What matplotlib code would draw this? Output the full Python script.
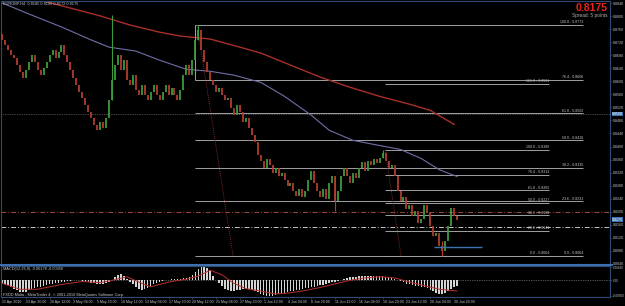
#!/usr/bin/env python3
"""EURGBP H4 terminal screenshot remake -> out.png (625x306)."""
import matplotlib
matplotlib.use("Agg")
import matplotlib.pyplot as plt
import numpy as np

plt.rcParams.update({
    "font.family": "sans-serif",
    "font.sans-serif": ["Liberation Sans", "DejaVu Sans"],
})

# ---- data: prices in pips (1 pip = 0.0001), one bar = 8 hours ----
first_open = 8745
close_pips = [
    8727, 8711, 8696, 8681, 8671, 8650, 8628, 8610, 8634, 8659,
    8681, 8659, 8634, 8619, 8641, 8659, 8681, 8696, 8671, 8690,
    8711, 8681, 8659, 8634, 8610, 8588, 8567, 8548, 8527, 8505,
    8487, 8465, 8450, 8474, 8456, 8487, 8542, 8604, 8650, 8681,
    8634, 8665, 8604, 8588, 8619, 8573, 8557, 8588, 8557, 8542,
    8567, 8588, 8557, 8542, 8567, 8588, 8557, 8579, 8557, 8542,
    8573, 8619, 8650, 8619, 8665, 8727, 8758, 8696, 8659, 8628,
    8604, 8588, 8567, 8579, 8557, 8542, 8548, 8517, 8496, 8527,
    8505, 8474, 8487, 8456, 8434, 8413, 8373, 8357, 8333, 8363,
    8342, 8320, 8333, 8308, 8320, 8296, 8280, 8289, 8265, 8249,
    8271, 8246, 8265, 8296, 8326, 8289, 8265, 8246, 8271, 8240,
    8289, 8311, 8234, 8265, 8311, 8333, 8311, 8289, 8320, 8302,
    8333, 8351, 8326, 8357, 8342, 8363, 8348, 8366, 8379, 8357,
    8333, 8342, 8311, 8265, 8234, 8246, 8209, 8219, 8188, 8203,
    8166, 8179, 8219, 8197, 8157, 8126, 8135, 8095, 8080, 8111,
    8157, 8212, 8188, 8175,
]
wick_idx = [37, 66, 112, 128, 148]
wick_low = [8542, 8727, 8203, 8366, 8064]
wick_high = [8804, 8773, 8311, 8390, 8111]

ma_red_idx = [3, 14, 23, 33, 43, 53, 60, 70, 80, 87, 97, 107, 117, 127, 137, 144, 152]
ma_red = [8890, 8846, 8825, 8801, 8773, 8751, 8739, 8730, 8705, 8687, 8650, 8613,
          8582, 8554, 8530, 8511, 8468]
ma_slate_idx = [0, 9, 20, 30, 36, 45, 53, 62, 70, 78, 87, 95, 104, 110, 118, 127,
                134, 141, 147, 153]
ma_slate = [8841, 8807, 8767, 8727, 8705, 8693, 8665, 8637, 8631, 8619, 8597, 8554,
            8496, 8450, 8419, 8403, 8391, 8363, 8329, 8308]

fib_a = (0.8064, 0.8773)                     # low, high
fib_a_levels = [0.0, 23.6, 38.2, 50.0, 61.8, 76.4, 100.0]
fib_a_trend = ([65.6, 77.7], [0.8773, 0.8064])
fib_b = (0.8064, 0.8390)
fib_b_levels = [0.0, 23.6, 38.2, 50.0, 61.8, 76.4, 100.0, 161.8]
fib_b_trend = ([128.8, 134.2], [0.8390, 0.8064])
line_red = 0.8200
line_white = 0.8154
line_dotted = 0.8500
support = 0.8092
bid = 0.8175

# MACD(12,26,9), units of 1e-4
macd_hist = [
    -8, -12, -16, -22, -28, -34, -38, -40, -38, -34,
    -30, -27, -24, -21, -18, -16, -14, -12, -10, -8,
    -6, -4, -2, -1, 1, 1, 0, -2, -4, -6,
    -8, -10, -12, -13, -12, -10, -6, 2, 10, 18,
    20, 14, 5, -5, -14, -22, -28, -31, -30, -26,
    -20, -14, -9, -5, -2, 0, 2, 4, 5, 6,
    6, 7, 9, 12, 18, 28, 38, 44, 46, 40,
    30, 15, 2, -10, -20, -28, -33, -36, -36, -34,
    -32, -30, -29, -30, -32, -36, -40, -45, -49, -52,
    -53, -52, -50, -47, -44, -42, -40, -37, -35, -33,
    -31, -29, -27, -25, -23, -21, -19, -17, -15, -13,
    -10, -7, -4, -1, 2, 5, 8, 10, 11, 12,
    13, 14, 15, 15, 15, 14, 14, 13, 13, 12,
    10, 7, 4, 1, -3, -7, -11, -14, -17, -19,
    -20, -21, -22, -26, -31, -36, -41, -45, -46, -43,
    -36, -28, -21, -18,
]
signal_idx = [0, 6, 12, 20, 27, 33, 38, 42, 46, 50, 56, 62, 66, 70, 74, 78, 82, 87,
              92, 97, 102, 107, 112, 117, 122, 127, 132, 137, 142, 147, 153]
signal = [-10, -30, -30, -14, -4, -8, 2, 12, -6, -22, -6, 4, 14, 34, 18, -10, -28,
          -36, -46, -42, -34, -24, -12, 0, 8, 12, 8, -6, -18, -30, -36]

date_lbl = ["21 Apr 2010", "23 Apr 20:00", "28 Apr 12:00", "3 May 04:00", "5 May 20:00",
            "10 May 12:00", "13 May 04:00", "17 May 20:00", "20 May 12:00", "25 May 04:00",
            "27 May 20:00", "1 Jun 12:00", "4 Jun 04:00", "8 Jun 20:00", "11 Jun 12:00",
            "16 Jun 04:00", "18 Jun 20:00", "23 Jun 12:00", "28 Jun 04:00", "30 Jun 20:00"]

# ---- style ----
W, H = 625, 306
FRAME, TXT = "#2a4d78", "#c4c8cc"
GREEN, RED = "#3c9c3c", "#b23c2e"
FIB = "#a0a0a0"
SEP = "#3f72b0"
FS = 2.6
YLO, YHI = 0.80394, 0.88467


def rect(x0, y0, x1, y1):
    # pixel box, origin top-left -> figure fraction
    return [x0 / W, 1 - y1 / H, (x1 - x0) / W, (y1 - y0) / H]


def px(x):
    # pixel column -> bar index
    return (x - 2) / 2.974


fig = plt.figure(figsize=(W / 100, H / 100), dpi=100, facecolor="black")
ax = fig.add_axes(rect(1, 1, 610, 264), facecolor="black")
axm = fig.add_axes(rect(1, 266, 610, 297), facecolor="black")

for a in (ax, axm):
    a.set_xlim(px(1), px(610))
    for s in a.spines.values():
        s.set_color(FRAME)
        s.set_linewidth(0.8)
    a.tick_params(axis="y", left=False, labelleft=False, right=True, labelright=True,
                  length=1.5, width=0.5, color=FRAME, labelcolor=TXT, labelsize=FS, pad=0.6)

# ===== main price window =====
close = np.array(close_pips) / 1e4
opn = np.r_[first_open / 1e4, close[:-1]]
idx = np.arange(len(close))
up = close >= opn
ax.vlines(wick_idx, np.array(wick_low) / 1e4, np.array(wick_high) / 1e4,
          colors=[GREEN if up[i] else RED for i in wick_idx], lw=0.8, zorder=3)
ax.vlines(idx, np.minimum(opn, close), np.maximum(opn, close),
          colors=np.where(up, GREEN, RED), lw=1.3, zorder=3)

ax.plot(ma_red_idx, np.array(ma_red) / 1e4, color="#a8302a", lw=1.0, zorder=2)
ax.plot(ma_slate_idx, np.array(ma_slate) / 1e4, color="#6e70a6", lw=0.8, zorder=2)

ax.axhline(line_dotted, color="#8a8a8a", ls=(0, (1, 1.5)), lw=0.5, zorder=1)
ax.axhline(line_red, color="#9c4a36", ls=(0, (5, 2, 1, 2)), lw=0.7, zorder=1)
ax.axhline(line_white, color="#c8c8c8", ls=(0, (5, 2, 1, 2)), lw=0.7, zorder=1)
ax.hlines(support, px(434), px(482), color=SEP, lw=1.0, zorder=4)


def draw_fib(lo, hi, levels, x0, x1, trend):
    for lv in levels:
        p = lo + (hi - lo) * lv / 100
        ax.hlines(p, x0, x1, color=FIB, lw=0.7, zorder=1)
        ax.text(x1, p + 0.0002, f"{lv:.1f} - {p:.4f}", color=TXT, fontsize=2.6,
                ha="right", va="bottom")
    ax.plot(trend[0], trend[1], color="#a83a30", lw=0.6, ls=(0, (1, 1.5)), zorder=2)


draw_fib(*fib_a, fib_a_levels, px(195), px(583), fib_a_trend)
draw_fib(*fib_b, fib_b_levels, px(385), px(549), fib_b_trend)
ax.vlines(px(195), fib_a[0] + (fib_a[1] - fib_a[0]) * 0.764, fib_a[1], color=FIB, lw=0.7)

ax.set_ylim(YLO, YHI)
ticks = np.arange(8040, 8841, 40) / 1e4
ax.set_yticks(ticks)
ax.set_yticklabels([f"{t:.4f}" for t in ticks])
ax.set_xticks([])

# ===== MACD window =====
axm.bar(idx, macd_hist, width=0.5, color="#d4d4d4", zorder=2)
axm.plot(signal_idx, signal, color="#b8302a", lw=0.7, zorder=3)
axm.axhline(0, color="#9a9a9a", ls=(0, (1, 1.5)), lw=0.5, zorder=1)
axm.set_ylim(-56, 48)
axm.set_yticks([44, 0, -52])
axm.set_yticklabels(["0.00480", "0.00", "-0.00560"])
axm.tick_params(axis="y", labelsize=2.2)
axm.set_xticks(np.arange(0, len(close), 8))
axm.set_xticklabels(date_lbl, ha="left")
axm.tick_params(axis="x", length=1.5, width=0.5, color=FRAME, labelcolor=TXT,
                labelsize=2.5, pad=0.5)

# window separator and texts
fig.add_artist(plt.Line2D([0, 612 / W], [1 - 265 / H] * 2, color=SEP, lw=1.4))
fig.text(3 / W, 1 - 4 / H, "EURGBP,H4  0.8185 0.8190 0.8172 0.8175", color=TXT,
         fontsize=2.8, va="center")
fig.text(608 / W, 1 - 8 / H, "0.8175", color="#e8261e", fontsize=7.5,
         fontweight="bold", ha="right", va="center")
fig.text(608 / W, 1 - 15 / H, "Spread: 5 points", color="#b0b0b0", fontsize=3.4,
         ha="right", va="center")
fig.text(3 / W, 1 - 269 / H, "MACD(12,26,9) -0.00178 -0.00358", color=TXT,
         fontsize=2.8, va="center")
fig.text(3 / W, 1 - 295 / H,
         "FXDD Malta - MetaTrader 4, \u00a9 2001-2010 MetaQuotes Software Corp.",
         color=TXT, fontsize=2.8, va="center")
for v, t in ((line_dotted, "0.8500"), (bid, "0.8175")):
    y = (1 - (v - YLO) / (YHI - YLO)) * 263 + 1
    fig.text(612 / W, 1 - y / H, t, color="white", fontsize=FS, va="center",
             bbox=dict(facecolor=SEP, edgecolor="none", pad=0.3))

fig.savefig("out.png", dpi=100, facecolor="black")
